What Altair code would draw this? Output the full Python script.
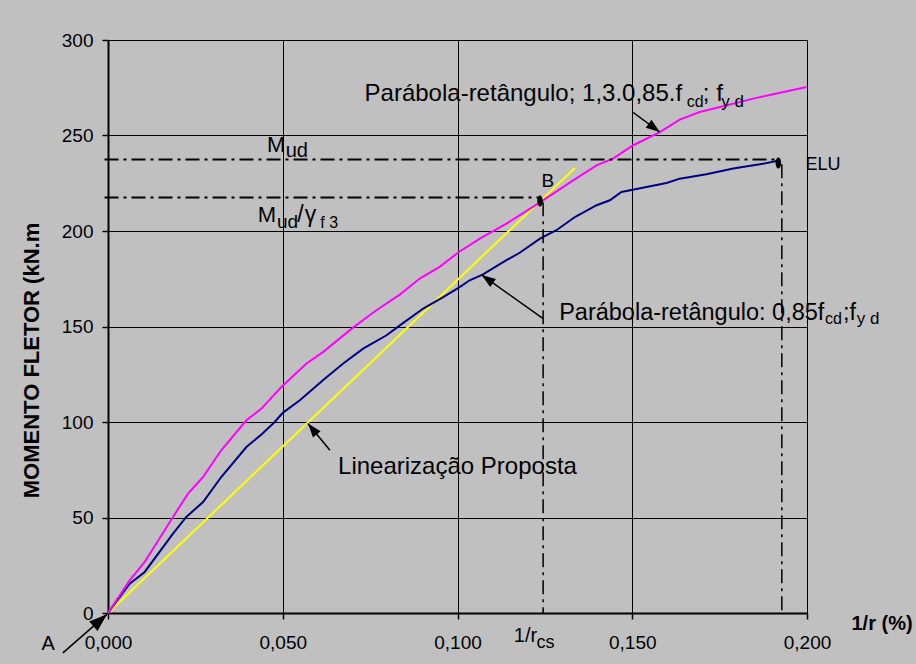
import math
import altair as alt
import pandas as pd

# ---------------- data ----------------
# Parábola-retângulo; 1,3.0,85.fcd; fyd (magenta)
mag_x = [0.0, 0.0062, 0.0105, 0.0186, 0.0229, 0.0272, 0.0324, 0.0396, 0.0439, 0.0496,
         0.0568, 0.0615, 0.0701, 0.0768, 0.0835, 0.0892, 0.0949, 0.1004, 0.1064, 0.1140,
         0.1236, 0.1331, 0.1398, 0.1445, 0.1503, 0.1579, 0.1636, 0.1693, 0.1760, 0.1846,
         0.1903, 0.1999]
mag_y = [0.0, 17.1, 26.7, 50.3, 62.5, 71.2, 85.2, 100.9, 107.0, 118.3,
         130.6, 136.6, 149.4, 158.5, 166.7, 175.1, 181.2, 189.0, 196.0, 203.9,
         215.0, 226.5, 234.4, 237.9, 244.9, 251.8, 258.3, 262.3, 265.3, 269.3,
         271.6, 275.4]

# Parábola-retângulo: 0,85fcd;fyd (navy)
blue_x = [0.0, 0.0062, 0.0105, 0.0186, 0.0224, 0.0272, 0.0324, 0.0396, 0.0439, 0.0477,
          0.0500, 0.0549, 0.0615, 0.0673, 0.0730, 0.0797, 0.0835, 0.0902, 0.0959, 0.1004,
          0.1035, 0.1073, 0.1140, 0.1178, 0.1236, 0.1283, 0.1336, 0.1398, 0.1436, 0.1469,
          0.1541, 0.1598, 0.1636, 0.1712, 0.1789, 0.1865, 0.1913]
blue_y = [0.0, 15.4, 21.5, 41.6, 50.3, 58.1, 71.2, 86.9, 93.5, 100.0,
          104.8, 111.4, 121.8, 130.6, 138.4, 145.4, 150.6, 159.4, 165.4, 170.4,
          174.2, 177.3, 184.7, 188.6, 196.0, 200.4, 207.3, 213.5, 216.1, 220.4,
          223.0, 225.1, 227.4, 229.7, 232.7, 234.9, 236.6]

# Linearização Proposta (yellow)
lin_x = [0.0, 0.1336]
lin_y = [0.0, 233.0]

# marked points (B, ELU)
pt_name = ["B", "ELU"]
pt_x = [0.1236, 0.1918]
pt_y = [215.7, 235.6]

# dash-dot reference lines
ref_x1 = [-0.001, -0.001, 0.1245, 0.1928]
ref_x2 = [0.1915, 0.1236, 0.1245, 0.1928]
ref_y1 = [237.5, 217.5, 215.0, 235.0]
ref_y2 = [237.5, 217.5, 0.0, 0.0]
ref_w = [2.0, 2.0, 1.5, 1.5]

# annotation arrows (tail -> tip)
arr_x1 = [0.1501, 0.1244, 0.0635, -0.0129]
arr_y1 = [262.3, 154.3, 85.2, -20.9]
arr_x2 = [0.1579, 0.1069, 0.0572, -0.0003]
arr_y2 = [251.8, 177.0, 99.2, -0.7]
arr_head = [196, 196, 196, 324]

# annotation texts
txt = ["Parábola-retângulo; 1,3.0,85.f", "cd", "; f", "y d",
       "M", "ud",
       "M", "ud", "/", "γ", "f 3",
       "B", "ELU",
       "Parábola-retângulo: 0,85f", "cd", ";f", "y d",
       "Linearização Proposta",
       "1/r", "cs", "A"]
txt_x = [0.07341, 0.16562, 0.17020, 0.17550,
         0.04551, 0.05085,
         0.04285, 0.04834, 0.05415, 0.05630, 0.06073,
         0.12404, 0.19960,
         0.12908, 0.20512, 0.21028, 0.21421,
         0.06583,
         0.11611, 0.12261, -0.01906]
txt_y = [268.1, 264.9, 268.1, 264.9,
         241.4, 238.7,
         204.7, 201.4, 204.7, 204.7, 201.4,
         223.0, 231.8,
         153.6, 151.5, 153.6, 151.5,
         73.0,
         -15.2, -18.5, -19.2]
txt_size = [24, 16, 24, 17,
            22, 20,
            22, 19, 23, 23, 16,
            19, 18,
            23.5, 16, 23.5, 17,
            24,
            20, 18, 20]

# ---------------- layout ----------------
W, H = 699, 573
XMAX, YMAX = 0.2, 300
FONT = "Liberation Sans"

xs = alt.Scale(domain=[0, XMAX], nice=False, zero=False)
ys = alt.Scale(domain=[0, YMAX], nice=False)

x_axis = alt.Axis(values=[0, 0.05, 0.1, 0.15, 0.2],
                  labelExpr="replace(format(datum.value, '.3f'), '.', ',')",
                  labelFlush=False, labelOverlap=False,
                  grid=True, gridColor="black", gridWidth=1, gridOpacity=1,
                  domainColor="black", domainWidth=2, tickColor="black", tickWidth=1.5,
                  tickSize=6, labelPadding=14, labelFontSize=19, labelFont=FONT,
                  labelColor="black", title="1/r (%)", titleFont=FONT, titleFontSize=20,
                  titleFontWeight="bold", titleColor="black", titleAlign="left",
                  titleBaseline="alphabetic", titleX=743, titleY=16, titleAnchor="start")
y_axis = alt.Axis(values=[0, 50, 100, 150, 200, 250, 300], format="d",
                  labelFlush=False, labelOverlap=False,
                  grid=True, gridColor="black", gridWidth=1, gridOpacity=1,
                  domainColor="black", domainWidth=2, tickColor="black", tickWidth=1.5,
                  tickSize=6, labelPadding=9, labelFontSize=19, labelFont=FONT,
                  labelColor="black", title="MOMENTO FLETOR (kN.m", titleFont=FONT,
                  titleFontSize=22, titleFontWeight="bold", titleColor="black",
                  titleAngle=270, titleAlign="center", titleBaseline="middle",
                  titleX=-77, titleY=320)

mag = pd.DataFrame({"x": mag_x, "y": mag_y})
blu = pd.DataFrame({"x": blue_x, "y": blue_y})
lin = pd.DataFrame({"x": lin_x, "y": lin_y})
pts = pd.DataFrame({"name": pt_name, "x": pt_x, "y": pt_y})
refs = pd.DataFrame({"x": ref_x1, "x2": ref_x2, "y": ref_y1, "y2": ref_y2, "w": ref_w})

arrows = pd.DataFrame({"x": arr_x1, "y": arr_y1, "x2": arr_x2, "y2": arr_y2, "sz": arr_head})
dxp = (arrows["x2"] - arrows["x"]) * W / XMAX
dyp = -(arrows["y2"] - arrows["y"]) * H / YMAX
arrows["ang"] = [(math.degrees(math.atan2(a, -b)) + 360) % 360 for a, b in zip(dxp, dyp)]

texts = pd.DataFrame({"t": txt, "x": txt_x, "y": txt_y, "s": txt_size})

base_x = alt.X("x:Q", scale=xs, axis=x_axis)
base_y = alt.Y("y:Q", scale=ys, axis=y_axis)

line_mag = alt.Chart(mag).mark_line(color="#ff00ff", strokeWidth=2).encode(x=base_x, y=base_y)
line_blu = alt.Chart(blu).mark_line(color="#000080", strokeWidth=2).encode(x="x:Q", y="y:Q")
line_lin = alt.Chart(lin).mark_line(color="#ffff00", strokeWidth=2).encode(x="x:Q", y="y:Q")

ref_layer = alt.Chart(refs).mark_rule(color="black", strokeDash=[14, 5, 3, 5]).encode(
    x="x:Q", x2="x2:Q", y="y:Q", y2="y2:Q",
    strokeWidth=alt.StrokeWidth("w:Q", scale=None))

ELLIPSE = "M0,-1A0.5,1,0,1,1,0,1A0.5,1,0,1,1,0,-1Z"
pt_layer = alt.Chart(pts).mark_point(shape=ELLIPSE, filled=True, color="black",
                                     opacity=1, size=121, strokeWidth=0).encode(
    x="x:Q", y="y:Q")

shaft = alt.Chart(arrows).mark_rule(color="black", strokeWidth=1.5).encode(
    x="x:Q", y="y:Q", x2="x2:Q", y2="y2:Q")
HEAD = "M0,0L-0.7,2L0.7,2Z"
heads = alt.Chart(arrows).mark_point(shape=HEAD, filled=True, color="black",
                                     opacity=1, strokeWidth=0).encode(
    x="x2:Q", y="y2:Q",
    angle=alt.Angle("ang:Q", scale=None),
    size=alt.Size("sz:Q", scale=None))

text_layer = alt.Chart(texts).mark_text(align="left", baseline="alphabetic",
                                        font=FONT, color="black").encode(
    x="x:Q", y="y:Q", text="t:N", size=alt.Size("s:Q", scale=None))

chart = alt.layer(line_lin, line_blu, line_mag, ref_layer, pt_layer, shaft, heads,
                  text_layer).properties(
    width=W, height=H,
    autosize=alt.AutoSizeParams(type="none"),
    padding={"left": 108, "top": 40, "right": 109, "bottom": 51},
    background="#c0c0c0",
).configure_view(strokeWidth=0)

chart.save("out.html", embed_options={"renderer": "svg", "actions": False})
